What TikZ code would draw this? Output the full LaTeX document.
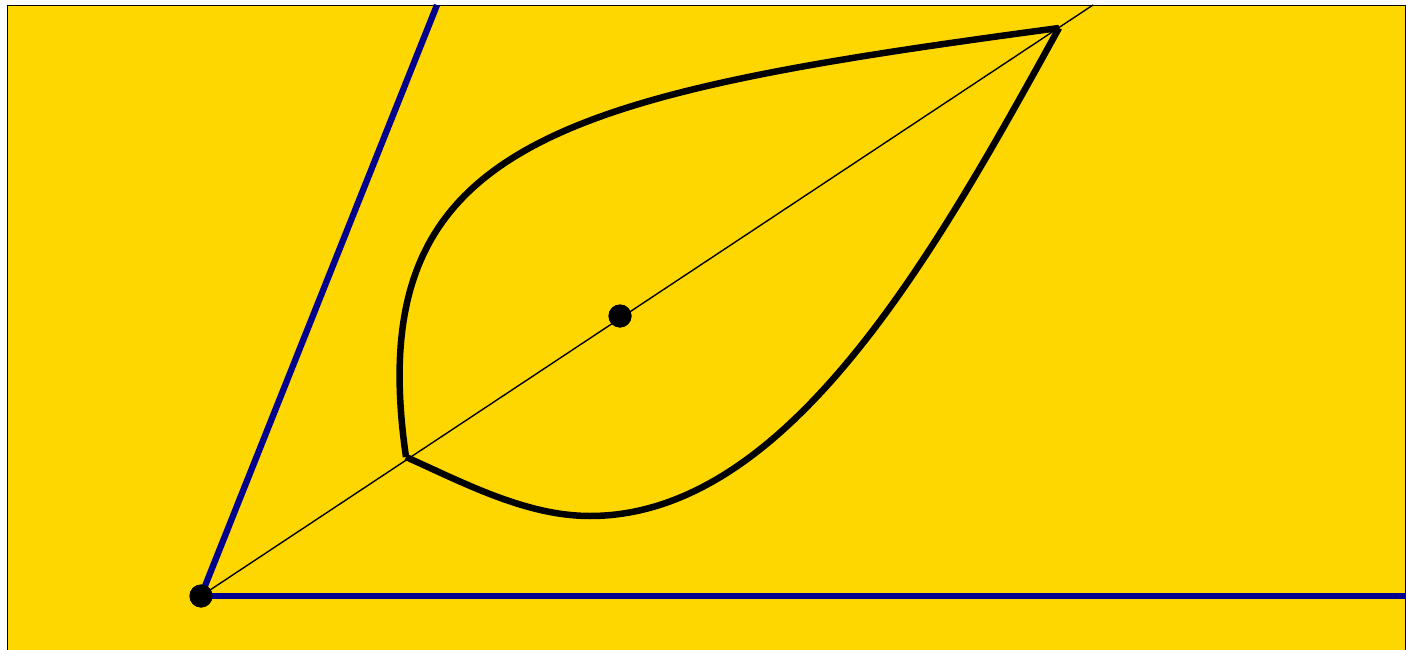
\documentclass[tikz,border=0pt]{standalone}
\definecolor{bgyellow}{HTML}{FFD700}
\definecolor{axisblue}{RGB}{0,0,140}
\begin{document}
\begin{tikzpicture}[x=1pt,y=-1pt,
  dot/.style={circle,fill=black,inner sep=0pt,minimum size=23pt},
  axis/.style={draw=axisblue,line width=6.3pt},
  leaf/.style={draw=black,line width=6.5pt},
  guide/.style={draw=black,line width=1.4pt}]
\useasboundingbox (0,0) rectangle (1406,650);
\path[fill=bgyellow,draw=black,line width=1.5pt] (7.5,5.5) rectangle (1405.5,652);
\coordinate (A) at (406,457);
\coordinate (B) at (1059,28);
\coordinate (D) at (590,516);
\coordinate (T1) at (437,5);
\coordinate (T2) at (1093,5);
\coordinate (R) at (1406,596);
\node[dot] (O) at (201,596) {};
\node[dot] (M) at (620,316) {};
\draw[guide] (O.center) -- (T2);
\draw[axis] (O.center) -- (T1);
\draw[axis] (O.center) -- (R);
\draw[leaf] (A) .. controls (360,140) and (560,95) .. (B);
\draw[leaf] (A) .. controls (464,483) and (526,516) .. (D)
  .. controls (790,516) and (938,247) .. (B);
\node[dot] at (O) {};
\node[dot] at (M) {};
\end{tikzpicture}
\end{document}
